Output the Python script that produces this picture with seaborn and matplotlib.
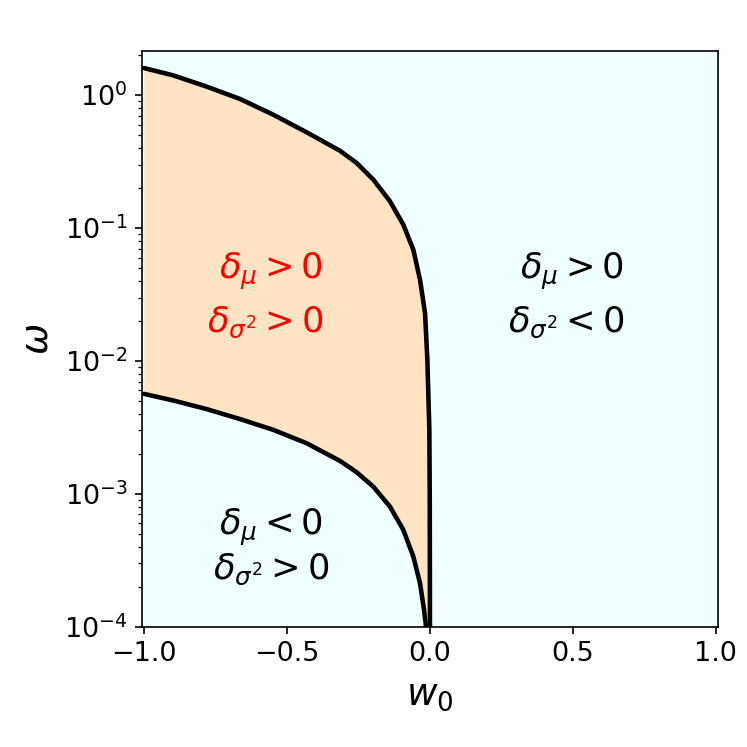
import numpy as np
import pandas as pd
import seaborn as sns
import matplotlib.pyplot as plt

# upper boundary
upper_w0 = [-1.0, -0.898, -0.781, -0.664, -0.548, -0.431, -0.315, -0.256,
            -0.198, -0.140, -0.0934, -0.0584, -0.035, -0.0175, -0.0094,
            -0.0024, -0.001, -0.0003]
upper_om = [1.60, 1.41, 1.16, 0.936, 0.713, 0.525, 0.382, 0.308,
            0.231, 0.159, 0.106, 0.0687, 0.0408, 0.0229, 0.0102,
            3.03e-3, 9.0e-4, 1.0e-4]

# lower boundary
lower_w0 = [-1.0, -0.898, -0.781, -0.664, -0.548, -0.431, -0.315, -0.256,
            -0.198, -0.140, -0.0934, -0.0584, -0.035, -0.021, -0.014]
lower_om = [5.65e-3, 5.04e-3, 4.34e-3, 3.65e-3, 3.03e-3, 2.40e-3, 1.77e-3,
            1.45e-3, 1.13e-3, 8.0e-4, 5.35e-4, 3.37e-4, 2.12e-4, 1.34e-4, 1.0e-4]

# region labels: (line, x, y, colour, ha)
labels = [
    (r'$\delta_\mu > 0$', -0.374, 0.0475, 'red', 'right'),
    (r'$\delta_{\sigma^2} > 0$', -0.374, 0.0197, 'red', 'right'),
    (r'$\delta_\mu > 0$', 0.677, 0.0475, 'black', 'right'),
    (r'$\delta_{\sigma^2} < 0$', 0.681, 0.0197, 'black', 'right'),
    (r'$\delta_\mu < 0$', -0.556, 5.6e-4, 'black', 'center'),
    (r'$\delta_{\sigma^2} > 0$', -0.556, 2.72e-4, 'black', 'center'),
]

sns.set_theme(style='ticks', rc={
    'axes.edgecolor': 'black', 'axes.linewidth': 0.8,
    'text.color': 'black', 'axes.labelcolor': 'black',
    'xtick.color': 'black', 'ytick.color': 'black',
    'xtick.major.size': 3.5, 'ytick.major.size': 3.5,
    'xtick.major.width': 0.8, 'ytick.major.width': 0.8,
    'ytick.minor.size': 2, 'ytick.minor.width': 0.6,
})
plt.rcParams['font.family'] = ['DejaVu Sans']
plt.rcParams['mathtext.fontset'] = 'dejavusans'

fig = plt.figure(figsize=(5, 5), dpi=149.4)
ax = fig.add_axes([0.19, 0.161, 0.771, 0.771])
ax.set_facecolor('azure')

up = pd.DataFrame({'w0': upper_w0, 'omega': upper_om})
lo = pd.DataFrame({'w0': lower_w0, 'omega': lower_om})

# shaded region between the two boundaries
poly_x = list(up['w0']) + list(lo['w0'][::-1])
poly_y = list(up['omega']) + list(lo['omega'][::-1])
ax.fill(poly_x, poly_y, color='bisque', lw=0, zorder=1)

sns.lineplot(data=up, x='w0', y='omega', color='black', lw=2.2, ax=ax,
             sort=False, estimator=None, zorder=3)
sns.lineplot(data=lo, x='w0', y='omega', color='black', lw=2.2, ax=ax,
             sort=False, estimator=None, zorder=3)

ax.set_yscale('log')
ax.set_xlim(-1.008, 1.007)
ax.set_ylim(1e-4, 2.16)
ax.set_xticks([-1.0, -0.5, 0.0, 0.5, 1.0])
ax.tick_params(labelsize=13)
ax.set_xlabel(r'$w_0$', fontsize=18)
ax.set_ylabel(r'$\omega$', fontsize=18)

for txt, x, y, col, ha in labels:
    ax.text(x, y, txt, color=col, fontsize=17, ha=ha, va='center')

fig.savefig('out.png', dpi=149.4)
